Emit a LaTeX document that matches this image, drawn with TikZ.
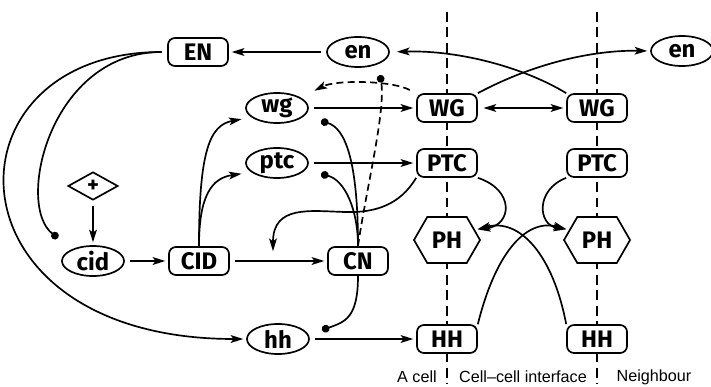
\documentclass[tikz,border=0pt]{standalone}
\usepackage{fontspec}
\setsansfont{Fira Sans}
\newfontfamily\cellfont{Liberation Sans}
\usepackage{tikz}
\usetikzlibrary{arrows.meta,shapes.geometric,shapes.symbols}

\begin{document}
\begin{tikzpicture}[->,>={Stealth[length=9pt,width=5.5pt,inset=2pt]},shorten >=2pt,x=0.025cm,y=-0.025cm,
                    line width=1.2pt,node distance=3.75cm,
                    gene node/.style={ellipse,draw,fill=white,inner sep=0pt,minimum width=1.55cm,minimum height=0.75cm,font={\sffamily\bfseries\fontsize{17}{17}\selectfont}},
                    protein node/.style={rectangle,rounded corners=5pt,draw,fill=white,inner sep=0pt,minimum width=1.5cm,minimum height=0.7cm,font={\sffamily\bfseries\fontsize{17}{17}\selectfont}},
                    ph node/.style={signal,signal to=east and west,signal pointer angle=120,draw,fill=white,inner sep=0pt,minimum width=1.65cm,minimum height=1.15cm,font={\sffamily\bfseries\fontsize{17}{17}\selectfont}},
                    cell text/.style={font={\cellfont\fontsize{11.5}{11.5}\selectfont},inner sep=0pt},
                    membrane/.style={-,dash pattern=on 7pt off 4pt,line width=0.9pt},
                    inhibit/.style={-{Circle[length=5.5pt]},shorten >=0pt}]

  \useasboundingbox (0,0) rectangle (711,387);

  % cell borders
  \draw[membrane] (447,12) -- (447,387);
  \draw[membrane] (597,12) -- (597,387);

  \node[protein node] (EN) at (198,52) {EN};
  \node[gene node] (en) at (358,52) {en};
  \node[gene node] (wg) at (277,108) {wg};
  \node[gene node] (ptc) at (277,163) {ptc};
  \node[diamond,aspect=1.8,draw,fill=white,inner sep=0pt,minimum width=1.25cm,minimum height=0.7cm,font={\sffamily\bfseries\fontsize{16}{16}\selectfont}] (plus) at (93,186) {+};
  \node[gene node] (cid) at (93,261) {cid};
  \node[protein node] (CID) at (199,261) {CID};
  \node[protein node] (CN) at (358,261) {CN};
  \node[gene node] (hh) at (278,339) {hh};

  \node[protein node] (WG) at (447,108) {WG};
  \node[protein node] (PTC) at (447,163) {PTC};
  \node[ph node] (PH) at (447,240) {PH};
  \node[protein node] (HH) at (447,339) {HH};
  \node[protein node] (WG2) [right of=WG] {WG};
  \node[protein node] (PTC2) [right of=PTC] {PTC};
  \node[ph node] (PH2) [right of=PH] {PH};
  \node[protein node] (HH2) [right of=HH] {HH};
  \node[gene node] (en2) at (682,51) {en};

  \node[cell text] (acell) at (417,377) {A cell};
  \node[cell text] (iface) at (523,377) {Cell–cell interface};
  \node[cell text] (neighbour) at (654,377) {Neighbour};

  \coordinate (cidstop) at (58,238);
  \coordinate (wgstop) at (321,121);
  \coordinate (ptcstop) at (321,174);
  \coordinate (hhstop) at (322,330);
  \coordinate (enstop) at (380,75);
  \coordinate (wgtop) at (312,92);
  \coordinate (cidcn) at (273,254);

  \path[shorten <=4pt]
    (en) edge (EN)
    (plus) edge (cid)
    (cid) edge (CID)
    (CID) edge (CN)
    (wg) edge (WG)
    (ptc) edge (PTC)
    (hh) edge (HH)
    (WG) edge [<->] (WG2);

  \draw[shorten <=4pt] (EN.west) .. controls (-60,52) and (-60,339) .. (hh.west);
  \draw[inhibit,shorten <=4pt] (EN.west) .. controls (50,52) and (15,205) .. (cidstop);

  \draw[shorten >=7pt] (CID.north) .. controls (199,150) and (210,125) .. (wg.200);
  \draw[shorten >=7pt] (CID.north) .. controls (199,195) and (212,178) .. (ptc.200);

  \draw[inhibit] (CN.north) .. controls (358,160) and (345,128) .. (wgstop);
  \draw[inhibit] (CN.north) .. controls (358,210) and (345,180) .. (ptcstop);
  \draw[inhibit] (CN.south) .. controls (358,318) and (345,322) .. (hhstop);
  \draw[inhibit,dash pattern=on 5pt off 3pt] (CN.north) .. controls (366,190) and (386,110) .. (enstop);
  \draw[dash pattern=on 5pt off 3pt,shorten <=5pt] (WG.north west) .. controls (390,80) and (335,80) .. (wgtop);

  \draw (PTC.south west) .. controls (400,205) and (375,213) .. (345,212)
        .. controls (310,211) and (273,205) .. (cidcn);

  \draw (WG.north east) .. controls (540,60) and (600,50) .. (en2.west);
  \draw[shorten >=5pt] (WG2.north west) .. controls (525,68) and (460,50) .. (en.east);

  \draw (PTC.south east) .. controls (515,190) and (512,225) .. (PH.20);
  \draw (PTC2.south west) .. controls (535,190) and (538,225) .. (PH2.160);
  \draw (HH.north east) .. controls (495,255) and (525,218) .. (PH2.160);
  \draw (HH2.north west) .. controls (553,255) and (520,218) .. (PH.20);
\end{tikzpicture}
\end{document}
